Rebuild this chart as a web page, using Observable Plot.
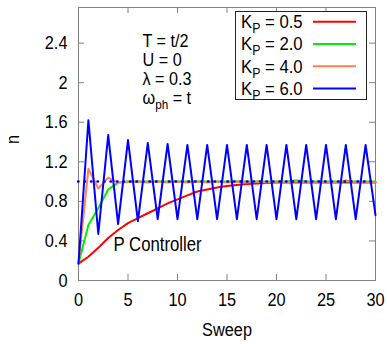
<!DOCTYPE html>
<html><head><meta charset="utf-8">
<script src="https://cdn.jsdelivr.net/npm/d3@7"></script>
<script src="https://cdn.jsdelivr.net/npm/@observablehq/plot@0.6"></script>
<style>
body{margin:0;background:#fff;}
#chart svg{font-family:"Liberation Sans",Arial,sans-serif;}
</style></head><body><div id="chart"></div>
<script>
// ---- data ----
const sweep = [0,1,2,3,4,5,6,7,8,9,10,11,12,13,14,15,16,17,18,19,20,21,22,23,24,25,26,27,28,29,30];
const kp05 = [0.17,0.24,0.33,0.43,0.51,0.58,0.63,0.68,0.73,0.78,0.82,0.86,0.90,0.92,0.94,0.955,0.965,0.975,0.98,0.985,0.99,0.99,0.99,0.99,0.99,0.99,0.99,0.99,0.99,0.99,0.99];
const kp20 = [0.17,0.56,0.73,0.92,0.99,1.0,1.0,1.0,1.0,1.0,1.0,1.0,1.0,1.0,1.0,1.0,1.0,1.0,1.0,1.0,1.0,1.0,1.01,1.0,1.0,1.0,1.0,1.0,1.0,1.0,1.0];
const kp40 = [0.17,1.13,0.93,1.04,0.99,0.995,1.0,0.99,1.0,0.99,1.0,0.99,1.0,0.99,1.0,0.99,1.0,0.99,1.0,0.99,1.0,0.99,1.0,0.99,0.99,0.99,0.99,1.01,0.99,0.99,0.99];
const kp60 = [0.17,1.62,0.47,1.47,0.57,1.42,0.60,1.39,0.62,1.38,0.62,1.37,0.62,1.37,0.62,1.37,0.62,1.37,0.62,1.37,0.62,1.37,0.62,1.37,0.62,1.37,0.62,1.37,0.62,1.37,0.66];
const reference = [1];
const seriesLabels = ["0.5","2.0","4.0","6.0"];
const seriesColors = ["#ff0000","#00ee00","#ff8050","#0000ff"];
const xTicks = [0,5,10,15,20,25,30];
const yTicks = [0,0.4,0.8,1.2,1.6,2,2.4];
const yTickLabels = ["0","0.4","0.8","1.2","1.6","2","2.4"];
const paramLines = [["T = t/2"],["U = 0"],["λ = 0.3"],["ω","ph"," = t"]];
const noteText = ["P Controller"];
const xLabel = ["Sweep"];
const yLabel = ["n"];

const series = [kp05, kp20, kp40, kp60];
const FS = 19;
const SQ = 0.86; // horizontal squeeze of the reference's lettering
const gray = "#808080";

const lineMarks = series.map((vals, k) => Plot.line(sweep, {x: d => d, y: (d, i) => vals[i], stroke: seriesColors[k], strokeWidth: 2}));

const plot = Plot.plot({
  width: 387, height: 344,
  marginLeft: 78, marginRight: 12, marginTop: 7, marginBottom: 64,
  style: {fontSize: FS + "px", fontFamily: '"Liberation Sans",Arial,sans-serif', background: "white", color: "black"},
  x: {domain: [0, 30]},
  y: {domain: [0, 2.76]},
  marks: [
    Plot.frame({stroke: gray}),
    Plot.tickX(xTicks, {x: d => d, insetTop: 267, stroke: gray}),
    Plot.tickX(xTicks, {x: d => d, insetBottom: 267, stroke: gray}),
    Plot.tickY(yTicks, {y: d => d, insetRight: 291, stroke: gray}),
    Plot.tickY(yTicks, {y: d => d, insetLeft: 291, stroke: gray}),
    Plot.axisX({ticks: xTicks, tickSize: 0, tickPadding: 12, label: null, fontSize: FS}),
    Plot.axisY({ticks: yTicks, tickSize: 0, tickPadding: 11, label: null, fontSize: FS, tickFormat: d => yTickLabels[yTicks.indexOf(d)]}),
    lineMarks[0], lineMarks[1], lineMarks[2],
    Plot.ruleY(reference, {y: d => d, stroke: "#0000ff", strokeWidth: 2.5, strokeDasharray: "0.5,6", strokeLinecap: "round"}),
    lineMarks[3],
    Plot.text(xLabel, {frameAnchor: "bottom", dy: 55, fontSize: FS, fill: "black"}),
    Plot.text(yLabel, {frameAnchor: "left", dx: -66, rotate: -90, fontSize: FS, fill: "black"}),
    Plot.text(noteText, {frameAnchor: "bottom-left", dx: 35, dy: -29.5, textAnchor: "start", fontSize: FS + 0.5, fill: "black"})
  ]
});
document.getElementById("chart").appendChild(plot);

const svg = d3.select(plot);
// squeeze Plot's own texts horizontally around their anchors
svg.selectAll("text").each(function() {
  const el = this;
  const ax = +(el.getAttribute("x") || 0);
  const tr = el.getAttribute("transform") || "";
  el.setAttribute("transform", `${tr} translate(${ax},0) scale(${SQ},1) translate(${-ax},0)`);
});
function addText(g, x, y, size, parts, sq) {
  const t = g.append("text").attr("transform", `translate(${x},${y}) scale(${sq},1)`)
    .attr("font-size", size).attr("fill", "black").attr("text-anchor", "start");
  t.append("tspan").text(parts[0]);
  if (parts.length > 2) {
    t.append("tspan").attr("font-size", size - 5).attr("dy", 5).text(parts[1]);
    t.append("tspan").attr("dy", -5).text(parts[2]);
  }
  return t;
}
// parameter annotation
const ann = svg.append("g");
paramLines.forEach((parts, i) => addText(ann, 142.5, 46.7 + i * 19.1, 18, parts, 0.9));
// legend
const lg = svg.append("g");
lg.append("rect").attr("x", 235.5).attr("y", 11.5).attr("width", 131).attr("height", 88)
  .attr("fill", "white").attr("stroke", "#222").attr("stroke-width", 1);
seriesLabels.forEach((lab, i) => {
  const yb = 28 + i * 22.3;
  addText(lg, 241, yb, FS, ["K", "P", " = " + lab], 0.88);
  lg.append("line").attr("x1", 313).attr("x2", 356).attr("y1", yb - 6.3).attr("y2", yb - 6.3)
    .attr("stroke", seriesColors[i]).attr("stroke-width", 2);
});
</script></body></html>
